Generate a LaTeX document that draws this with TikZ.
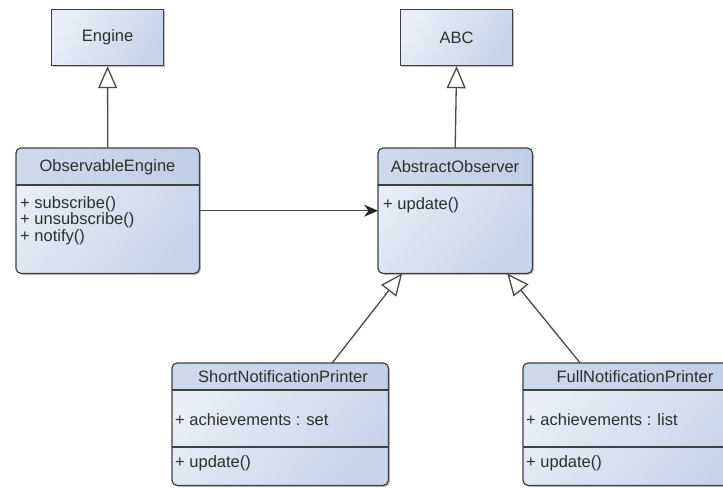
\documentclass[tikz,border=0pt]{standalone}
\usepackage{fontspec}
\setmainfont{Liberation Sans}
\usetikzlibrary{arrows.meta,shadows}

\definecolor{boxlight}{HTML}{E9EEF7}
\definecolor{boxdark}{HTML}{C7D4EA}
\definecolor{headlight}{HTML}{CFD9EC}
\definecolor{headdark}{HTML}{C0CEE7}
\definecolor{edgecol}{HTML}{404040}
\definecolor{linecol}{HTML}{4A4A4A}
\definecolor{txtcol}{HTML}{2E2E2E}

\tikzset{
  umltext/.style={text=txtcol, font=\fontsize{16.5}{16.5}\selectfont},
  shadowed/.style={drop shadow={shadow xshift=1.6pt, shadow yshift=-1.6pt, opacity=0.35, fill=black!70}},
  plainbox/.style={anchor=north west, inner sep=0pt, draw=edgecol, line width=1.2pt,
    top color=boxlight, bottom color=boxdark, shading angle=60, shadowed, umltext},
  clsbody/.style={anchor=north west, inner sep=0pt, rounded corners=5pt,
    top color=boxlight, bottom color=boxdark, shading angle=50, shadowed},
  clsedge/.style={draw=edgecol, line width=1.2pt, rounded corners=5pt},
  divider/.style={draw=edgecol, line width=1.2pt},
  headfill/.style={left color=headlight, right color=headdark},
  clstitle/.style={umltext, inner sep=0pt, anchor=center},
  member/.style={umltext, inner sep=0pt, anchor=base west},
  inherit/.style={draw=linecol, line width=1.3pt,
    -{Triangle[open, length=22pt, width=19pt, fill=white]}},
  assoc/.style={draw=linecol, line width=1.3pt, -{Stealth[length=14pt, width=12pt, color=black!85]}},
}

\begin{document}
\begin{tikzpicture}[x=1pt, y=-1pt]
\clip (0,0) rectangle (723,488);
\fill[white] (0,0) rectangle (723,488);

% ---------- plain classes ----------
\node[plainbox, minimum width=112pt, minimum height=56pt] (engine) at (51,9) {Engine};
\node[plainbox, minimum width=112pt, minimum height=56pt] (abc) at (400,9) {ABC};

% ---------- ObservableEngine ----------
\node[clsbody, minimum width=183pt, minimum height=125pt] (oe) at (16,148) {};
\begin{scope}
  \clip[rounded corners=5pt] (oe.north west) rectangle (oe.south east);
  \fill[headfill] (oe.north west) rectangle (199,185);
\end{scope}
\draw[clsedge] (oe.north west) rectangle (oe.south east);
\coordinate (oeDivL) at (16,185);
\coordinate (oeDivR) at (199,185);
\draw[divider] (oeDivL) -- (oeDivR);
\node[clstitle] (oeT) at (107.5,167) {ObservableEngine};
\node[member] (oeM1) at (20,208) {+ subscribe()};
\node[member] (oeM2) at (20,224.5) {+ unsubscribe()};
\node[member] (oeM3) at (20,241) {+ notify()};

% ---------- AbstractObserver ----------
\node[clsbody, minimum width=154pt, minimum height=125pt] (ao) at (378,148) {};
\begin{scope}
  \clip[rounded corners=5pt] (ao.north west) rectangle (ao.south east);
  \fill[headfill] (ao.north west) rectangle (532,185);
\end{scope}
\draw[clsedge] (ao.north west) rectangle (ao.south east);
\coordinate (aoDivL) at (378,185);
\coordinate (aoDivR) at (532,185);
\draw[divider] (aoDivL) -- (aoDivR);
\node[clstitle] (aoT) at (455,167) {AbstractObserver};
\node[member] (aoM1) at (383,209) {+ update()};

% ---------- ShortNotificationPrinter ----------
\node[clsbody, minimum width=216pt, minimum height=122pt] (snp) at (172,363) {};
\begin{scope}
  \clip[rounded corners=5pt] (snp.north west) rectangle (snp.south east);
  \fill[headfill] (snp.north west) rectangle (388,390);
\end{scope}
\draw[clsedge] (snp.north west) rectangle (snp.south east);
\coordinate (snpDivA) at (172,390);
\coordinate (snpDivB) at (388,390);
\coordinate (snpDivC) at (172,447);
\coordinate (snpDivD) at (388,447);
\draw[divider] (snpDivA) -- (snpDivB);
\draw[divider] (snpDivC) -- (snpDivD);
\node[clstitle] (snpT) at (283,377) {ShortNotificationPrinter};
\node[member] (snpA) at (175,425) {+ achievements : set};
\node[member] (snpM) at (175,467) {+ update()};

% ---------- FullNotificationPrinter ----------
\node[clsbody, minimum width=228pt, minimum height=122pt] (fnp) at (523,363) {};
\begin{scope}
  \clip[rounded corners=5pt] (fnp.north west) rectangle (fnp.south east);
  \fill[headfill] (fnp.north west) rectangle (751,390);
\end{scope}
\draw[clsedge] (fnp.north west) rectangle (fnp.south east);
\coordinate (fnpDivA) at (523,390);
\coordinate (fnpDivB) at (751,390);
\coordinate (fnpDivC) at (523,447);
\coordinate (fnpDivD) at (751,447);
\draw[divider] (fnpDivA) -- (fnpDivB);
\draw[divider] (fnpDivC) -- (fnpDivD);
\node[clstitle] (fnpT) at (635,377) {FullNotificationPrinter};
\node[member] (fnpA) at (526,425) {+ achievements : list};
\node[member] (fnpM) at (526,467) {+ update()};

% ---------- connectors ----------
\draw[inherit] (oe.north) -- (engine.south);
\draw[inherit] (ao.north) -- (abc.south);
\draw[assoc] (oe.east) -- (ao.west);
\draw[inherit] ([xshift=52pt]snp.north) -- ([xshift=-53pt]ao.south);
\draw[inherit] ([xshift=-57pt]fnp.north) -- ([xshift=52pt]ao.south);
\end{tikzpicture}
\end{document}
